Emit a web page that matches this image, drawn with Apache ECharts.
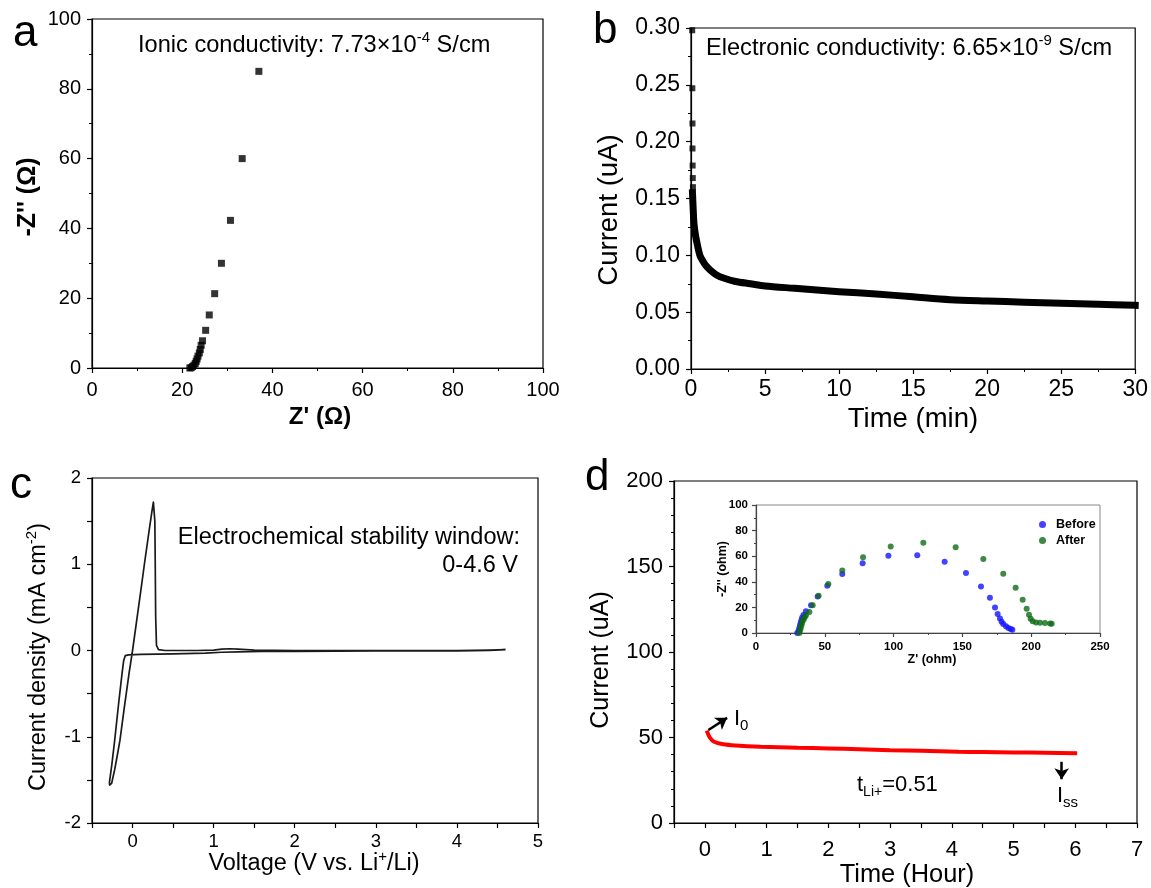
<!DOCTYPE html>
<html><head><meta charset="utf-8">
<script src="https://cdn.jsdelivr.net/npm/echarts@6.0.0/dist/echarts.min.js"></script>
<style>html,body{margin:0;padding:0;background:#fff}#c{width:1151px;height:888px}</style>
</head><body><div id="c"></div><script>
const FONT = '"Liberation Sans", Arial, sans-serif';

// ---- Panel a: Nyquist plot ----
const aZre = [21.7, 22.0, 22.3, 22.6, 22.9, 23.1, 23.3, 23.5, 23.8, 24.0, 24.2, 24.5, 25.2, 26.0, 27.2, 28.7, 30.7, 33.3, 37.0];
const aZim = [0.0, 0.1, 0.4, 0.8, 1.3, 1.9, 2.6, 3.4, 4.3, 5.3, 6.5, 7.8, 10.8, 15.2, 21.3, 30.0, 42.3, 60.0, 85.0];

// ---- Panel b: chronoamperometry (electronic) ----
const bEarlyT = [0.08, 0.09, 0.10, 0.10, 0.11, 0.12, 0.13];
const bEarlyI = [0.298, 0.247, 0.216, 0.194, 0.179, 0.168, 0.160];
const bT = [0.10, 0.15, 0.20, 0.30, 0.45, 0.60, 0.80, 1.0, 1.3, 1.7, 2.2, 3.0, 4.0, 5.0, 7.0, 10.0, 12.5, 15.0, 17.5, 20.0, 22.5, 25.0, 27.5, 30.0];
const bI = [0.155, 0.140, 0.128, 0.118, 0.108, 0.100, 0.095, 0.091, 0.087, 0.083, 0.080, 0.077, 0.075, 0.073, 0.071, 0.068, 0.066, 0.0635, 0.061, 0.0598, 0.0588, 0.0578, 0.057, 0.056];

// ---- Panel c: CV ----
const cV = [4.6, 4.4, 4.0, 3.0, 2.0, 1.6, 1.3, 1.1, 0.9, 0.5, 0.1, -0.05, -0.09, -0.11, -0.13, -0.17, -0.22, -0.255, -0.275, -0.285, -0.283, -0.272, -0.258, -0.22, -0.185, -0.155, -0.1, -0.044, 0.0, 0.05, 0.1, 0.146, 0.2, 0.24, 0.257, 0.268, 0.275, 0.28, 0.285, 0.295, 0.32, 0.4, 0.8, 1.0, 1.1, 1.2, 1.3, 1.5, 2.0, 3.0, 4.0, 4.4, 4.6];
const cI = [0.01, 0.0, -0.005, -0.005, -0.01, -0.01, -0.015, -0.02, -0.03, -0.04, -0.045, -0.05, -0.06, -0.12, -0.27, -0.6, -1.04, -1.32, -1.46, -1.53, -1.56, -1.565, -1.54, -1.38, -1.2, -1.04, -0.65, -0.27, 0.0, 0.34, 0.68, 1.0, 1.36, 1.62, 1.72, 1.71, 1.5, 1.0, 0.4, 0.06, 0.01, 0.0, 0.0, 0.005, 0.015, 0.02, 0.015, 0.005, 0.0, 0.0, 0.0, 0.005, 0.01];

// ---- Panel d: polarization current ----
const dT = [0.03, 0.08, 0.15, 0.30, 0.50, 0.90, 1.5, 2.0, 2.5, 3.0, 3.5, 4.1, 4.5, 5.0, 5.5, 6.03];
const dI = [54.0, 50.0, 47.5, 46.0, 45.3, 44.6, 44.0, 43.6, 43.1, 42.6, 42.2, 41.7, 41.5, 41.3, 41.1, 40.8];

// ---- Panel d inset: EIS before/after ----
const beforeZre = [30.0, 31.0, 31.5, 32.0, 32.5, 33.0, 33.5, 34.5, 36.3, 40.0, 44.8, 51.8, 62.7, 77.5, 96.2, 117.2, 137.1, 152.6, 163.5, 170.0, 173.7, 175.6, 177.3, 178.5, 179.7, 181.7, 183.4, 185.1, 186.3];
const beforeZim = [0.0, 2.0, 4.0, 6.0, 8.0, 10.0, 12.0, 14.0, 16.9, 21.6, 28.6, 36.9, 46.0, 54.5, 60.3, 60.8, 55.6, 46.8, 36.4, 27.5, 20.0, 14.8, 11.4, 8.8, 7.0, 5.2, 3.9, 3.1, 2.6];
const afterZre = [31.5, 32.0, 32.5, 33.0, 33.5, 34.0, 34.8, 35.5, 36.3, 38.8, 41.2, 45.5, 52.6, 62.7, 77.8, 97.9, 121.6, 145.1, 165.2, 179.7, 188.7, 193.8, 196.7, 198.4, 199.6, 201.1, 203.5, 206.4, 210.0, 213.7, 214.9];
const afterZim = [0.0, 2.0, 4.0, 6.0, 8.0, 9.5, 11.0, 12.5, 13.8, 16.4, 21.6, 29.1, 38.2, 48.8, 59.2, 67.5, 70.6, 67.0, 57.9, 46.2, 35.3, 26.0, 19.0, 14.3, 11.2, 9.1, 8.3, 8.1, 7.8, 7.5, 7.3];

const zip = (a, b) => a.map((v, i) => [v, b[i]]);

function axis(gi, min, max, interval, o) {
  o = o || {};
  return {
    type: 'value', gridIndex: gi, min: min, max: max, interval: interval,
    axisLine: { show: true, onZero: false, lineStyle: { color: o.color || '#000', width: 1.2 } },
    axisTick: { show: true, inside: false, length: o.tick || 5, lineStyle: { color: o.color || '#000', width: 1.2 } },
    minorTick: { show: !!o.minor, splitNumber: o.minor || 2, length: o.mtick || 3, lineStyle: { color: o.color || '#000', width: 1 } },
    splitLine: { show: false }, minorSplitLine: { show: false },
    axisLabel: { show: true, color: '#000', fontFamily: FONT, fontSize: o.fs || 17, fontWeight: o.fw || 'normal', margin: o.margin || 10,
      formatter: o.fmt, showMinLabel: true, showMaxLabel: true, hideOverlap: false }
  };
}
const isInt = v => Math.abs(v - Math.round(v)) < 1e-9;

function txt(x, y, text, size, opts) {
  opts = opts || {};
  return {
    type: 'text', x: x, y: y, rotation: opts.rot || 0, z: 100,
    style: { text: text, fill: '#000', font: (opts.bold ? 'bold ' : '') + size + 'px ' + FONT,
      align: opts.align || 'left', verticalAlign: 'middle', rich: opts.rich }
  };
}
function richSet(size, bold, sub) {
  const fw = bold ? 'bold' : 'normal';
  const ss = Math.round(size * 0.62);
  const sb = sub || ss;
  return {
    n: { fontSize: size, fontFamily: FONT, fontWeight: fw, lineHeight: Math.round(size * 1.25), color: '#000' },
    sup: { fontSize: ss, fontFamily: FONT, fontWeight: fw, verticalAlign: 'top', lineHeight: ss, color: '#000' },
    sub: { fontSize: sb, fontFamily: FONT, fontWeight: fw, verticalAlign: 'bottom', lineHeight: sb, color: '#000' }
  };
}

const chart = echarts.init(document.getElementById('c'), null, { renderer: 'canvas' });
chart.setOption({
  animation: false,
  backgroundColor: '#fff',
  grid: [
    { left: 92, top: 19, width: 451, height: 349, show: true, borderColor: '#000', borderWidth: 1.2, containLabel: false },
    { left: 691, top: 28, width: 445, height: 341, show: true, borderColor: '#000', borderWidth: 1.2, containLabel: false },
    { left: 92, top: 478, width: 446, height: 345, show: true, borderColor: '#000', borderWidth: 1.2, containLabel: false },
    { left: 674, top: 481, width: 463, height: 342, show: true, borderColor: '#000', borderWidth: 1.2, containLabel: false },
    { left: 756, top: 505, width: 344, height: 128, show: true, borderColor: '#888', borderWidth: 1, containLabel: false }
  ],
  xAxis: [
    axis(0, 0, 100, 20, { minor: 2, fs: 20, margin: 12 }),
    axis(1, 0, 30, 5, { minor: 2, fs: 23, margin: 9 }),
    axis(2, -0.5, 5, 0.5, { fs: 18.5, margin: 9, fmt: v => isInt(v) ? String(Math.round(v)) : '' }),
    axis(3, -0.5, 7, 0.5, { fs: 22, margin: 16, fmt: v => isInt(v) ? String(Math.round(v)) : '' }),
    axis(4, 0, 250, 50, { minor: 2, fs: 11.5, fw: 'bold', margin: 8, tick: 4, mtick: 2, color: '#444' })
  ],
  yAxis: [
    axis(0, 0, 100, 20, { minor: 2, fs: 20, margin: 11 }),
    axis(1, 0, 0.30, 0.05, { minor: 2, fs: 23, margin: 11, fmt: v => v.toFixed(2) }),
    axis(2, -2, 2, 0.5, { fs: 18.5, margin: 11, fmt: v => isInt(v) ? String(Math.round(v)) : '' }),
    axis(3, 0, 200, 50, { minor: 5, fs: 22, margin: 11 }),
    axis(4, 0, 100, 20, { minor: 2, fs: 11.5, fw: 'bold', margin: 8, tick: 4, mtick: 2, color: '#444' })
  ],
  legend: {
    left: 1034, top: 513, orient: 'vertical', itemWidth: 7, itemHeight: 7, itemGap: 3,
    icon: 'circle', data: ['Before', 'After'],
    textStyle: { fontFamily: FONT, fontWeight: 'bold', fontSize: 12.5, color: '#000', lineHeight: 13, padding: [0, 0, 0, 5] }
  },
  series: [
    { type: 'scatter', xAxisIndex: 0, yAxisIndex: 0, symbol: 'rect', symbolSize: 7, itemStyle: { color: '#000' }, data: zip(aZre, aZim) },
    { type: 'line', xAxisIndex: 1, yAxisIndex: 1, showSymbol: false, smooth: 0.3, lineStyle: { color: '#000', width: 7, join: 'round', cap: 'square' }, data: zip(bT, bI) },
    { type: 'scatter', xAxisIndex: 1, yAxisIndex: 1, symbol: 'rect', symbolSize: 6, itemStyle: { color: '#000' }, data: zip(bEarlyT, bEarlyI) },
    { type: 'line', xAxisIndex: 2, yAxisIndex: 2, showSymbol: false, smooth: false, lineStyle: { color: '#1a1a1a', width: 1.7, join: 'round' }, data: zip(cV, cI) },
    { type: 'line', xAxisIndex: 3, yAxisIndex: 3, showSymbol: false, smooth: 0.3, lineStyle: { color: '#ff0000', width: 4 }, data: zip(dT, dI),
      markLine: { silent: true, symbol: ['none', 'arrow'], symbolSize: 11, animation: false,
        lineStyle: { color: '#000', width: 2.5, type: 'solid' }, label: { show: false },
        data: [ [ { coord: [0.057, 54.4] }, { coord: [0.36, 61.5] } ], [ { coord: [5.78, 35.8] }, { coord: [5.78, 25.6] } ] ] } },
    { name: 'Before', type: 'scatter', xAxisIndex: 4, yAxisIndex: 4, symbol: 'circle', symbolSize: 6, itemStyle: { color: '#1414ff' }, data: zip(beforeZre, beforeZim) },
    { name: 'After', type: 'scatter', xAxisIndex: 4, yAxisIndex: 4, symbol: 'circle', symbolSize: 6, itemStyle: { color: '#0e6b14' }, data: zip(afterZre, afterZim) }
  ],
  graphic: [
    txt(13, 34, 'a', 44),
    txt(593, 31, 'b', 44),
    txt(10, 486, 'c', 44),
    txt(585, 478, 'd', 44),
    txt(138, 45, '{n|Ionic conductivity: 7.73×10}{sup|-4}{n| S/cm}', 23.6, { rich: richSet(23.6) }),
    txt(320, 417, "{n|Z' (Ω)}", 24, { align: 'center', rich: richSet(24, true) }),
    txt(28, 197, "{n|-Z'' (Ω)}", 25, { align: 'center', rot: Math.PI / 2, rich: richSet(25, true) }),
    txt(706, 48, '{n|Electronic conductivity: 6.65×10}{sup|-9}{n| S/cm}', 23.6, { rich: richSet(23.6) }),
    txt(913, 419, 'Time (min)', 27.5, { align: 'center' }),
    txt(609, 210, 'Current (uA)', 27.5, { align: 'center', rot: Math.PI / 2 }),
    txt(520, 538, 'Electrochemical stability window:', 23.5, { align: 'right' }),
    txt(518, 566, '0-4.6 V', 23.5, { align: 'right' }),
    txt(314, 864, '{n|Voltage (V vs. Li}{sup|+}{n|/Li)}', 23.5, { align: 'center', rich: richSet(23.5) }),
    txt(39, 657, '{n|Current density (mA cm}{sup|-2}{n|)}', 23.5, { align: 'center', rot: Math.PI / 2, rich: richSet(23.5) }),
    txt(907, 875, 'Time (Hour)', 25.4, { align: 'center' }),
    txt(601, 660, 'Current (uA)', 25, { align: 'center', rot: Math.PI / 2 }),
    txt(734, 719, '{n|I}{sub|0}', 22, { rich: richSet(22, false, 15) }),
    txt(857, 785, '{n|t}{sub|Li+}{n|=0.51}', 22, { rich: richSet(22, false, 14) }),
    txt(1057, 796, '{n|I}{sub|ss}', 22, { rich: richSet(22, false, 15) }),
    txt(932, 660, "Z' (ohm)", 12.5, { align: 'center', bold: true }),
    txt(723, 569, "-Z'' (ohm)", 12.5, { align: 'center', bold: true, rot: Math.PI / 2 })
  ]
});
</script></body></html>
